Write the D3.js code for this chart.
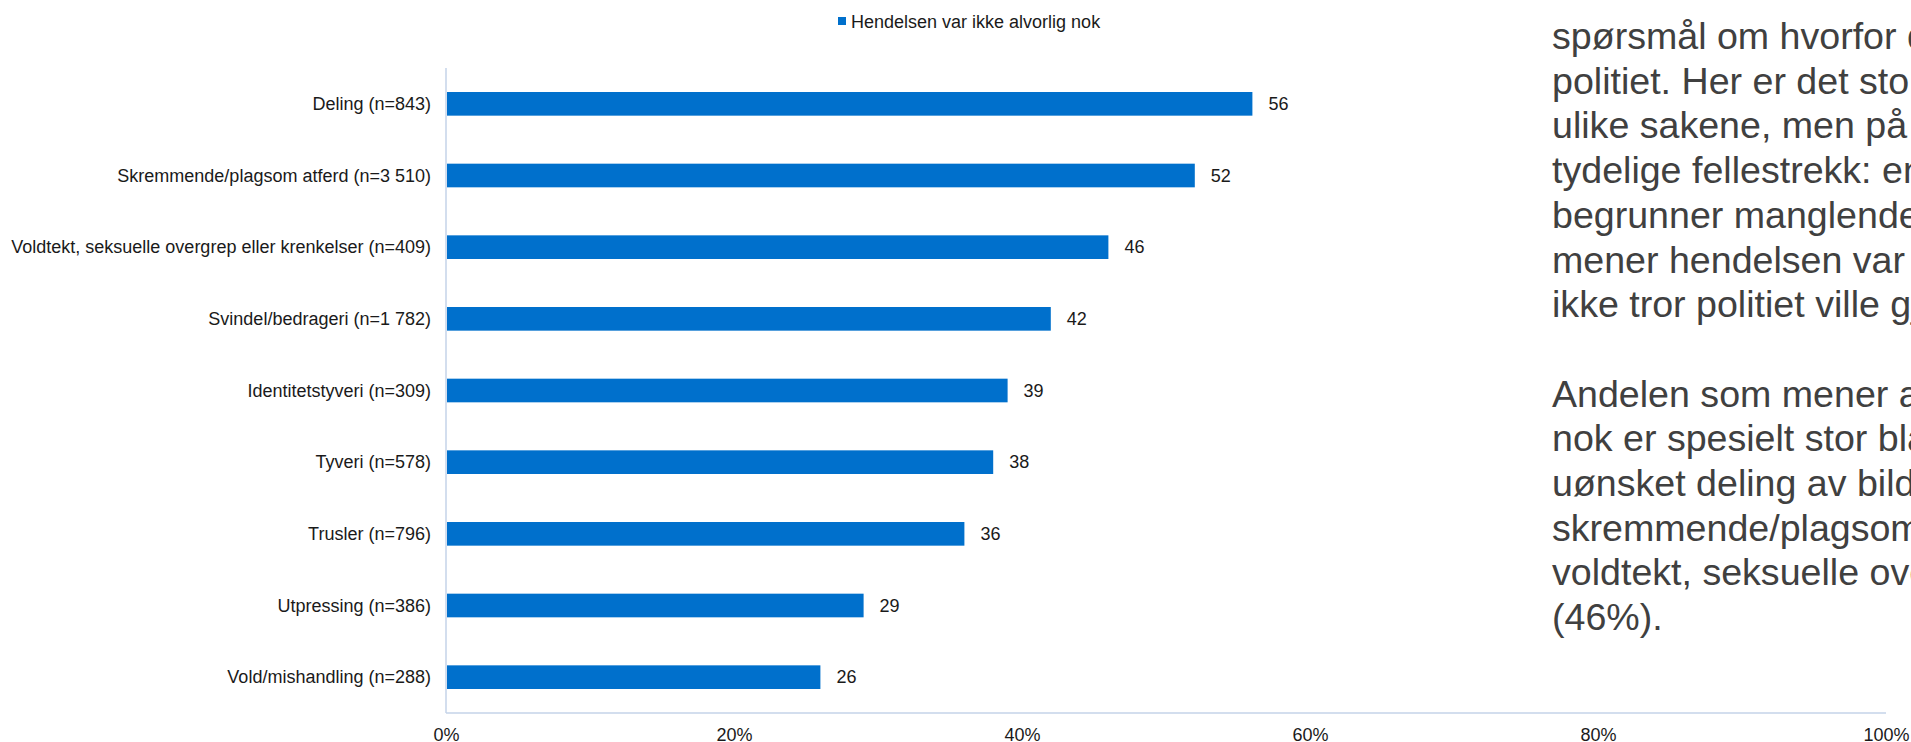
<!DOCTYPE html>
<html>
<head>
<meta charset="utf-8">
<script src="https://cdn.jsdelivr.net/npm/d3@7"></script>
<style>
  html, body { margin: 0; padding: 0; background: #fff; overflow: hidden; }
  svg { display: block; font-family: "Liberation Sans", Arial, sans-serif; }
</style>
</head>
<body>
<svg id="chart" width="1911" height="742"></svg>
<script>
const categories = [
  "Deling (n=843)",
  "Skremmende/plagsom atferd (n=3 510)",
  "Voldtekt, seksuelle overgrep eller krenkelser (n=409)",
  "Svindel/bedrageri (n=1 782)",
  "Identitetstyveri (n=309)",
  "Tyveri (n=578)",
  "Trusler (n=796)",
  "Utpressing (n=386)",
  "Vold/mishandling (n=288)"
];
const values = [56, 52, 46, 42, 39, 38, 36, 29, 26];
const tickValues = [0, 20, 40, 60, 80, 100];
const seriesName = "Hendelsen var ikke alvorlig nok";
const sideText = [
  "spørsmål om hvorfor de ikke anmeldte til",
  "politiet. Her er det store forskjeller mellom de",
  "ulike sakene, men på tvers finner vi noen",
  "tydelige fellestrekk: en stor andel av dem som",
  "begrunner manglende anmeldelse med at de",
  "mener hendelsen var for lite alvorlig, eller at de",
  "ikke tror politiet ville gjøre noe.",
  "",
  "Andelen som mener at hendelsen ikke var alvorlig",
  "nok er spesielt stor blant dem som har opplevd",
  "uønsket deling av bilder (56%),",
  "skremmende/plagsom atferd (52%) og",
  "voldtekt, seksuelle overgrep eller krenkelser",
  "(46%)."
];

const svg = d3.select("#chart");
const barColor = "#0070CC";
const axisColor = "#C5D3E8";

const x = d3.scaleLinear().domain([0, 100]).range([446, 1886]);
const y = d3.scaleBand().domain(categories).range([68, 713]).paddingInner(0.67).paddingOuter(0.335);

// axes lines
svg.append("line").attr("x1", x(0)).attr("x2", x(0)).attr("y1", 68).attr("y2", 713)
  .attr("stroke", axisColor).attr("stroke-width", 1.5);
svg.append("line").attr("x1", x(0)).attr("x2", x(100)).attr("y1", 713).attr("y2", 713)
  .attr("stroke", axisColor).attr("stroke-width", 1.5);

// bars
const data = categories.map((c, i) => ({ c, v: values[i] }));
svg.selectAll("rect.bar").data(data).enter().append("rect")
  .attr("class", "bar")
  .attr("x", x(0) + 1)
  .attr("y", d => y(d.c))
  .attr("width", d => x(d.v) - x(0) - 1)
  .attr("height", y.bandwidth())
  .attr("fill", barColor);

// value labels
svg.selectAll("text.val").data(data).enter().append("text")
  .attr("class", "val")
  .attr("x", d => x(d.v) + 16)
  .attr("y", d => y(d.c) + y.bandwidth() / 2)
  .attr("dy", "0.35em")
  .attr("font-size", 18)
  .attr("fill", "#1a1a1a")
  .text(d => d.v);

// category labels
svg.selectAll("text.cat").data(data).enter().append("text")
  .attr("class", "cat")
  .attr("x", 431)
  .attr("y", d => y(d.c) + y.bandwidth() / 2)
  .attr("dy", "0.35em")
  .attr("text-anchor", "end")
  .attr("font-size", 18)
  .attr("fill", "#1a1a1a")
  .text(d => d.c);

// x tick labels
const xAxis = d3.axisBottom(x).tickValues(tickValues).tickSize(0).tickFormat(d => d + "%");
const gx = svg.append("g").attr("transform", "translate(0,713)").call(xAxis);
gx.select(".domain").remove();
gx.selectAll("text").attr("font-size", 18).attr("fill", "#1a1a1a")
  .attr("font-family", "Liberation Sans, Arial, sans-serif")
  .attr("y", 27.5).attr("dy", 0);

// legend
svg.append("rect").attr("x", 838).attr("y", 17).attr("width", 8).attr("height", 8).attr("fill", barColor);
svg.append("text").attr("x", 851).attr("y", 27.5).attr("font-size", 18).attr("fill", "#1a1a1a").text(seriesName);

// side text
svg.append("g").selectAll("text").data(sideText).enter().append("text")
  .attr("x", 1552)
  .attr("y", (d, i) => 49 + i * 44.7)
  .attr("font-size", 37.6)
  .attr("fill", "#404040")
  .text(d => d);
</script>
</body>
</html>
